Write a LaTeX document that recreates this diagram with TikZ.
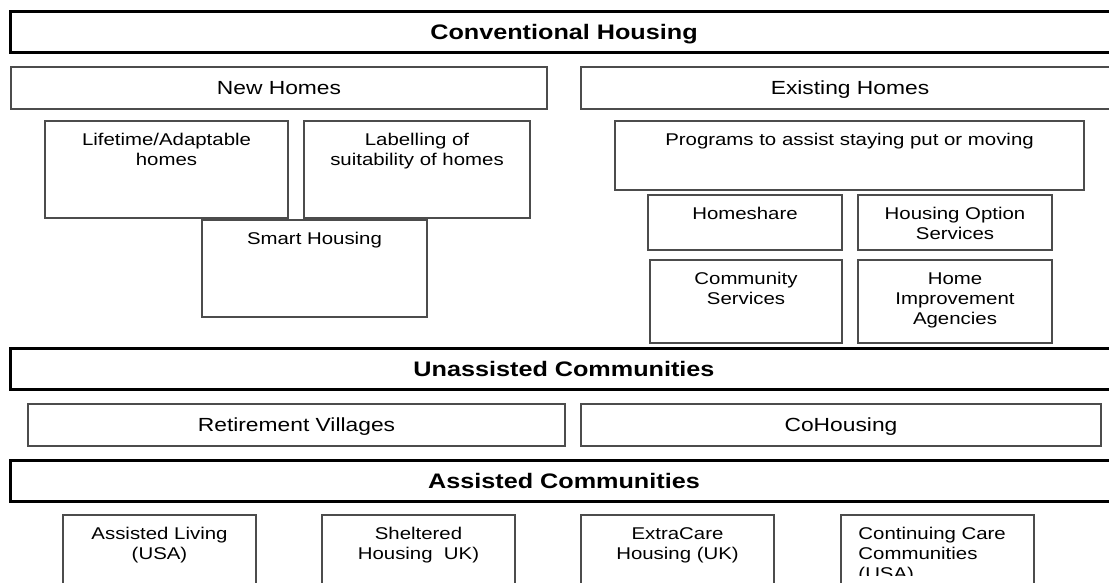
\documentclass[tikz,border=0pt]{standalone}
\usepackage{fontspec}
\setmainfont[FakeStretch=1.2]{Liberation Sans}
\begin{document}
\begin{tikzpicture}[x=1pt, y=-1pt,
    barra/.style={draw=black, line width=3pt, minimum width=1108pt, minimum height=41pt,
      inner sep=0pt, text height=15pt, text depth=0pt,
      font=\fontsize{21}{25}\selectfont\bfseries},
    franja/.style={draw=black!70, line width=1.5pt, minimum height=42pt,
      inner sep=0pt, text height=13.6pt, text depth=0pt,
      font=\fontsize{19}{23}\selectfont},
    caja/.style 2 args={draw=black!70, line width=1.5pt, inner sep=0pt,
      minimum width=#1, minimum height=#2},
    texto/.style={anchor=north, align=center, inner sep=0pt,
      font=\fontsize{17}{20}\selectfont}]
    \useasboundingbox (0,0) rectangle (1109,583);
    \fill[white] (0,0) rectangle (1109,583);
    \clip (0,0) rectangle (1109,583);

    % Barras principales
    \node[barra] (conv) at (564,32.5) {Conventional Housing};
    \node[barra] (unassisted) at (564,369) {Unassisted Communities};
    \node[barra] (assisted) at (564,481) {Assisted Communities};

    % Viviendas nuevas y existentes
    \node[franja, minimum width=536pt] (new) at (279,88) {New Homes};
    \node[franja, minimum width=538pt] (existing) at (850,88) {Existing Homes};

    % Casas nuevas
    \node[caja={243pt}{97pt}] (lifetime) at (166.5,169.5) {};
    \node[caja={226pt}{97pt}] (labelling) at (417,169.5) {};
    \node[caja={225pt}{97pt}] (smart) at (314.5,268.5) {};
    \node[texto] (lifetime-t) at ([yshift=-13pt]lifetime.north) {Lifetime/Adaptable\\homes};
    \node[texto] (labelling-t) at ([yshift=-13pt]labelling.north) {Labelling of\\suitability of homes};
    \node[texto] (smart-t) at ([yshift=-13pt]smart.north) {Smart Housing};

    % Casas existentes
    \node[caja={469pt}{69pt}] (programs) at (849.5,155.5) {};
    \node[caja={194pt}{55pt}] (homeshare) at (745,222.5) {};
    \node[caja={194pt}{55pt}] (options) at (955,222.5) {};
    \node[caja={192pt}{83pt}] (community) at (746,301.5) {};
    \node[caja={194pt}{83pt}] (improvement) at (955,301.5) {};
    \node[texto] (programs-t) at ([yshift=-13pt]programs.north) {Programs to assist staying put or moving};
    \node[texto] (homeshare-t) at ([yshift=-13pt]homeshare.north) {Homeshare};
    \node[texto] (options-t) at ([yshift=-13pt]options.north) {Housing Option\\Services};
    \node[texto] (community-t) at ([yshift=-13pt]community.north) {Community\\Services};
    \node[texto] (improvement-t) at ([yshift=-13pt]improvement.north) {Home\\Improvement\\Agencies};

    % Comunidades sin asistencia
    \node[franja, minimum width=537pt] (retirement) at (296.5,425) {Retirement Villages};
    \node[franja, minimum width=520pt] (cohousing) at (841,425) {CoHousing};

    % Comunidades asistidas
    \node[caja={193pt}{100pt}] (living) at (159.5,565) {};
    \node[caja={193pt}{100pt}] (sheltered) at (418.5,565) {};
    \node[caja={193pt}{100pt}] (extracare) at (677.5,565) {};
    \node[caja={193pt}{100pt}] (continuing) at (937.5,565) {};
    \node[texto] (living-t) at ([yshift=-13pt]living.north) {Assisted Living\\(USA)};
    \node[texto] (sheltered-t) at ([yshift=-13pt]sheltered.north) {Sheltered\\Housing\ \ UK)};
    \node[texto] (extracare-t) at ([yshift=-13pt]extracare.north) {ExtraCare\\Housing (UK)};
    % el texto queda cortado por abajo
    \begin{scope}
        \clip (continuing.north west) rectangle (1040,575);
        \node[texto, anchor=north west, align=left] (continuing-t)
            at ([xshift=18pt, yshift=-13pt]continuing.north west) {Continuing Care\\Communities\\(USA)};
    \end{scope}
\end{tikzpicture}
\end{document}
